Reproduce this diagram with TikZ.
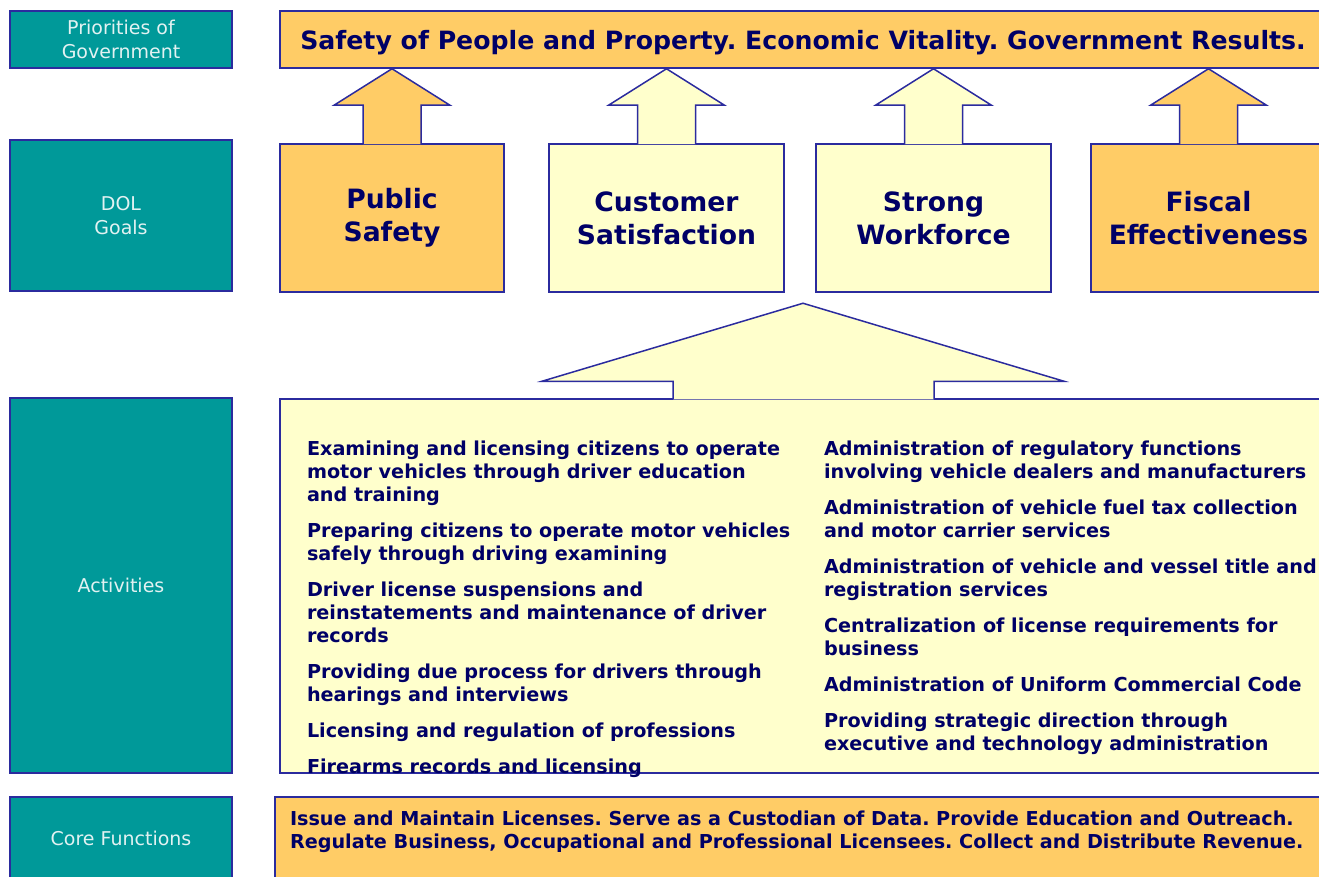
\documentclass[tikz,border=0pt]{standalone}
\usepackage{fontspec}
\setmainfont{DejaVu Sans}
\usetikzlibrary{positioning,calc}
\definecolor{dolteal}{HTML}{009999}
\definecolor{dolorange}{HTML}{FFCC66}
\definecolor{dolyellow}{HTML}{FFFFCC}
\definecolor{dolblue}{HTML}{2B2B9E}
\definecolor{dolnavy}{HTML}{000066}
\definecolor{dolpale}{HTML}{E2F2F2}
\frenchspacing
\begin{document}
\begin{tikzpicture}[x=1pt,y=-1pt,line width=1.5pt,
    sidebox/.style={draw=dolblue,fill=dolteal,text=dolpale,align=center,inner sep=0pt,
        minimum width=222pt,font=\fontsize{19}{24}\selectfont},
    band/.style={draw=dolblue,inner sep=0pt,text=dolnavy},
    goalbox/.style={band,align=center,minimum height=148pt,
        font=\bfseries\fontsize{26.6}{33}\selectfont},
    blockarrow/.style={draw=dolblue,line join=miter},
    acttext/.style={anchor=north west,inner sep=0pt,align=left,text=dolnavy,
        font=\bfseries\fontsize{19.2}{23}\selectfont}]
\useasboundingbox (0,0) rectangle (1319,877);
\clip (0,0) rectangle (1319,877);
\node[sidebox,minimum height=57pt] (prio) at (121,39.5) {Priorities of\\Government};
\node[sidebox,minimum height=151pt] (dol) at (121,215.5) {DOL\\Goals};
\node[sidebox,minimum height=375pt] (actl) at (121,585.5) {Activities};
\node[sidebox,minimum height=82pt] (corel) at (121,838) {Core Functions};
\node[band,fill=dolorange,minimum width=1046pt,minimum height=57pt,text height=25pt,text depth=4pt,
    font=\bfseries\fontsize{25.2}{28}\selectfont] (top) at (803,39.5)
    {Safety of People and Property. Economic Vitality. Government Results.};
\node[goalbox,fill=dolorange,minimum width=224pt] (ps) at (392,218) {Public\\Safety};
\node[goalbox,fill=dolyellow,minimum width=235pt] (cs) at (666.5,218) {Customer\\Satisfaction};
\node[goalbox,fill=dolyellow,minimum width=235pt] (sw) at (933.5,218) {Strong\\Workforce};
\node[goalbox,fill=dolorange,minimum width=235pt] (fe) at (1208.5,218) {Fiscal\\Effectiveness};
\foreach \g/\c in {ps/dolorange,cs/dolyellow,sw/dolyellow,fe/dolorange}
    \filldraw[blockarrow,fill=\c] ($(\g.north)+(-29,1)$) -- ($(\g.north)+(-29,-38)$)
        -- ($(\g.north)+(-58,-38)$) -- (\g.north |- top.south) -- ($(\g.north)+(58,-38)$)
        -- ($(\g.north)+(29,-38)$) -- ($(\g.north)+(29,1)$);
\node[band,fill=dolyellow,minimum width=1046pt,minimum height=374pt] (act) at (803,586) {};
\filldraw[blockarrow,fill=dolyellow] ($(act.north)+(-130,1)$) -- ($(act.north)+(-130,-17)$)
    -- ($(act.north)+(-261,-17)$) -- ($(act.north)+(0,-95)$) -- ($(act.north)+(261,-17)$)
    -- ($(act.north)+(131,-17)$) -- ($(act.north)+(131,1)$);
\node[acttext] (left) at ($(act.north west)+(27,42)$)
    {Examining and licensing citizens to operate\\motor vehicles through driver education\\and training\\[13pt]
     Preparing citizens to operate motor vehicles\\safely through driving examining\\[13pt]
     Driver license suspensions and\\reinstatements and maintenance of driver\\records\\[13pt]
     Providing due process for drivers through\\hearings and interviews\\[13pt]
     Licensing and regulation of professions\\[13pt]
     Firearms records and licensing};
\node[acttext] (right) at ($(act.north west)+(544,42)$)
    {Administration of regulatory functions\\involving vehicle dealers and manufacturers\\[13pt]
     Administration of vehicle fuel tax collection\\and motor carrier services\\[13pt]
     Administration of vehicle and vessel title and\\registration services\\[13pt]
     Centralization of license requirements for\\business\\[13pt]
     Administration of Uniform Commercial Code\\[13pt]
     Providing strategic direction through\\executive and technology administration};
\node[band,fill=dolorange,minimum width=1051pt,minimum height=82pt] (core) at (800.5,838) {};
\node[acttext] (coretext) at ($(core.north west)+(15,14)$)
    {Issue and Maintain Licenses. Serve as a Custodian of Data. Provide Education and Outreach.\\
     Regulate Business, Occupational and Professional Licensees. Collect and Distribute Revenue.};
\end{tikzpicture}
\end{document}
